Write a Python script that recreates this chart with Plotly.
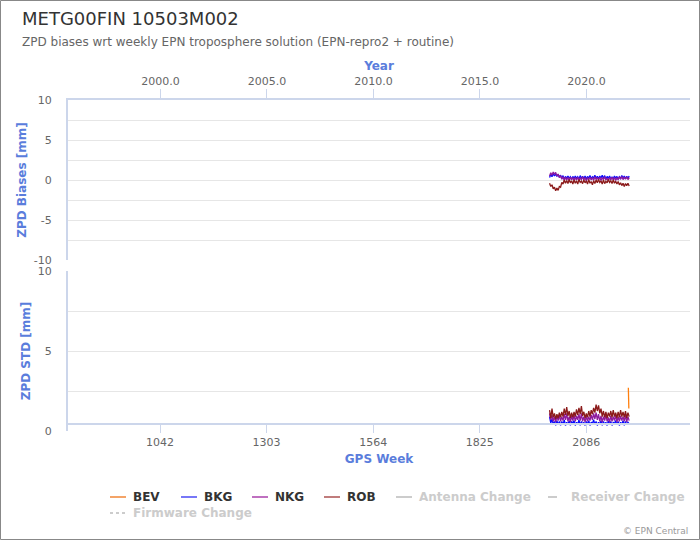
import plotly.graph_objects as go
from datetime import date

# ---------------- data ----------------
weeks = [1996, 1999, 2002, 2005, 2008, 2011, 2014, 2017, 2020, 2023,
         2026, 2029, 2032, 2035, 2038, 2041, 2044, 2047, 2050, 2053,
         2056, 2059, 2062, 2065, 2068, 2071, 2074, 2077, 2080, 2083,
         2086, 2089, 2092, 2095, 2098, 2101, 2104, 2107, 2110, 2113,
         2116, 2119, 2122, 2125, 2128, 2131, 2134, 2137, 2140, 2143,
         2146, 2149, 2152, 2155, 2158, 2161, 2164, 2167, 2170, 2173,
         2176, 2179, 2182, 2185, 2188, 2191]

bev_weeks = [2189.0, 2189.4, 2189.8, 2190.2]
bev_bias = [0.2, 0.1, 0.3, 0.2]
bev_std = [2.7, 2.1, 1.6, 1.4]

bkg_bias = [0.3, 0.7, 0.4, 0.8, 0.5, 0.75, 0.45, 0.7, 0.35, 0.6,
            0.2, 0.55, 0.1, 0.45, 0.15, 0.5, 0.2, 0.4, 0.1, 0.45,
            0.15, 0.5, 0.2, 0.4, 0.1, 0.55, 0.2, 0.45, 0.15, 0.5,
            0.1, 0.45, 0.2, 0.55, 0.15, 0.4, 0.25, 0.6, 0.2, 0.45,
            0.15, 0.5, 0.25, 0.6, 0.2, 0.55, 0.1, 0.45, 0.2, 0.5,
            0.1, 0.4, 0.15, 0.5, 0.2, 0.45, 0.1, 0.4, 0.2, 0.55,
            0.25, 0.5, 0.15, 0.45, 0.2, 0.5]
nkg_bias = [0.5, 0.9, 0.6, 1.0, 0.7, 0.95, 0.5, 0.75, 0.3, 0.55,
            0.1, 0.4, -0.05, 0.35, 0.0, 0.3, -0.1, 0.35, 0.05, 0.3,
            -0.05, 0.3, 0.0, 0.35, -0.1, 0.25, 0.05, 0.4, 0.0, 0.3,
            -0.1, 0.25, 0.05, 0.35, 0.0, 0.3, -0.05, 0.4, 0.05, 0.3,
            0.0, 0.35, -0.05, 0.3, 0.05, 0.4, 0.0, 0.25, -0.1, 0.3,
            0.05, 0.35, 0.0, 0.3, -0.05, 0.25, 0.05, 0.4, 0.1, 0.45,
            0.05, 0.35, 0.1, 0.4, 0.05, 0.3]
rob_bias = [-0.4, -0.8, -0.6, -1.1, -0.9, -1.35, -1.0, -1.3, -0.8, -0.9,
            -0.3, -0.5, 0.0, -0.4, -0.05, -0.45, 0.05, -0.35, -0.1, -0.5,
            0.0, -0.4, -0.1, -0.5, 0.05, -0.3, -0.15, -0.45, 0.0, -0.35,
            -0.1, -0.5, 0.05, -0.4, -0.2, -0.6, -0.1, -0.45, 0.0, -0.35,
            0.05, -0.3, -0.1, -0.5, 0.0, -0.45, -0.15, -0.35, 0.05, -0.3,
            -0.1, -0.45, 0.0, -0.4, -0.15, -0.5, -0.2, -0.6, -0.35, -0.7,
            -0.4, -0.8, -0.45, -0.7, -0.4, -0.75]

bkg_std = [0.9, 0.5, 0.75, 0.4, 0.6, 0.35, 0.65, 0.4, 0.6, 0.35,
           0.6, 0.4, 0.7, 0.35, 0.55, 0.4, 0.65, 0.35, 0.6, 0.45,
           0.65, 0.35, 0.55, 0.4, 0.7, 0.35, 0.6, 0.4, 0.55, 0.35,
           0.6, 0.4, 0.65, 0.35, 0.55, 0.45, 0.7, 0.4, 0.6, 0.35,
           0.55, 0.4, 0.65, 0.35, 0.6, 0.4, 0.55, 0.35, 0.65, 0.4,
           0.6, 0.35, 0.55, 0.45, 0.65, 0.4, 0.6, 0.35, 0.55, 0.4,
           0.65, 0.35, 0.6, 0.4, 0.55, 0.45]
nkg_std = [1.1, 0.7, 1.0, 0.6, 0.9, 0.55, 0.95, 0.65, 1.0, 0.6,
           0.9, 0.65, 1.05, 0.7, 1.1, 0.6, 0.9, 0.55, 0.95, 0.65,
           1.0, 0.6, 0.95, 0.7, 1.05, 0.65, 1.1, 0.6, 0.9, 0.55,
           0.95, 0.6, 0.9, 0.65, 1.0, 0.7, 1.1, 0.75, 1.15, 0.7,
           1.05, 0.6, 0.95, 0.55, 0.9, 0.65, 1.0, 0.6, 0.85, 0.55,
           0.95, 0.6, 0.9, 0.65, 1.0, 0.55, 0.9, 0.6, 0.95, 0.65,
           0.9, 0.6, 1.0, 0.55, 0.9, 0.65]
rob_std = [1.3, 0.8, 1.4, 0.85, 1.1, 0.75, 1.05, 0.8, 1.15, 0.85,
           1.2, 0.9, 1.4, 1.0, 1.5, 0.95, 1.25, 0.8, 1.15, 0.85,
           1.2, 0.9, 1.35, 1.0, 1.45, 1.05, 1.55, 0.95, 1.2, 0.8,
           1.1, 0.85, 1.25, 0.9, 1.3, 1.05, 1.45, 1.15, 1.65, 1.25,
           1.6, 1.1, 1.4, 0.9, 1.25, 0.85, 1.2, 0.8, 1.15, 0.9,
           1.25, 0.85, 1.3, 0.9, 1.15, 0.8, 1.2, 0.85, 1.3, 0.9,
           1.2, 0.85, 1.25, 0.8, 1.15, 0.9]

gps_week_ticks = [1042, 1303, 1564, 1825, 2086]
year_ticks = [2000, 2005, 2010, 2015, 2020]
year_labels = ["2000.0", "2005.0", "2010.0", "2015.0", "2020.0"]
bias_ticks = [-10, -7.5, -5, -2.5, 0, 2.5, 5, 7.5, 10]
bias_labels = ["-10", "", "-5", "", "0", "", "5", "", "10"]
std_ticks = [0, 2.5, 5, 7.5, 10]
std_labels = ["0", "", "5", "", "10"]

series_names = ["BEV", "BKG", "NKG", "ROB"]
series_colors = ["#ff7f0e", "#0a0aff", "#8e1a9e", "#8b1a1a"]
legend_colors = ["#f4a468", "#7777f7", "#bf70c0", "#c07c7c"]
hidden_names = ["Antenna Change", "Receiver Change", "Firmware Change"]

# --------------- helpers ---------------
W, H = 700, 540
L, R, T, B = 68, 10, 100, 109
PW, PH = W - L - R, H - T - B


def px(x):
    return (x - L) / PW


def py(y):
    return (H - B - y) / PH


epoch = date(1980, 1, 6)


def year_to_week(y):
    return (date(y, 1, 1) - epoch).days / 7.0


FONT = "DejaVu Sans"
BLUE = "#5a7ddc"
AXIS = "#ccd6eb"
GRID = "#e6e6e6"

fig = go.Figure()

bias_data = [(bev_weeks, bev_bias), (weeks, bkg_bias), (weeks, nkg_bias), (weeks, rob_bias)]
std_data = [(bev_weeks, bev_std), (weeks, bkg_std), (weeks, nkg_std), (weeks, rob_std)]

for name, col, (xw, yv) in zip(series_names, series_colors, bias_data):
    fig.add_trace(go.Scatter(x=xw, y=yv, mode="lines", name=name, showlegend=False,
                             line=dict(color=col, width=1.3), xaxis="x2", yaxis="y"))
for name, col, (xw, yv) in zip(series_names, series_colors, std_data):
    fig.add_trace(go.Scatter(x=xw, y=yv, mode="lines", name=name, showlegend=False,
                             line=dict(color=col, width=1.3), xaxis="x", yaxis="y2"))

xrange = [816.5, 2340]
tick_font = dict(family=FONT, size=11, color="#666666")
title_font = dict(family=FONT, size=12, color=BLUE)

fig.update_layout(
    width=W, height=H,
    margin=dict(l=L, r=R, t=T, b=B, autoexpand=False),
    paper_bgcolor="white", plot_bgcolor="white",
    font=dict(family=FONT, color="#333333"),
    xaxis=dict(domain=[0, 1], range=xrange, anchor="free", position=py(423.5),
               tickvals=gps_week_ticks, ticks="outside", ticklen=8, tickcolor=AXIS, tickwidth=1,
               showline=True, linecolor=AXIS, linewidth=2, showgrid=False, zeroline=False,
               tickfont=tick_font,
               title=dict(text="<b>GPS Week</b>", font=title_font, standoff=6)),
    xaxis2=dict(domain=[0, 1], matches="x", anchor="y", side="top",
                tickvals=[year_to_week(y) for y in year_ticks], ticktext=year_labels,
                ticks="outside", ticklen=9, tickcolor=AXIS, tickwidth=1,
                showline=True, linecolor=AXIS, linewidth=2, showgrid=False, zeroline=False,
                tickfont=tick_font,
                title=dict(text="<b>Year</b>", font=title_font, standoff=1)),
    yaxis=dict(domain=[py(260), 1], range=[-10, 10], tickvals=bias_ticks, ticktext=bias_labels,
               showgrid=True, gridcolor=GRID, gridwidth=1, zeroline=False,
               showline=True, linecolor=AXIS, linewidth=2, ticks="",
               tickfont=tick_font, ticklabelstandoff=12,
               title=dict(text="<b>ZPD Biases [mm]</b>", font=title_font, standoff=5)),
    yaxis2=dict(domain=[0, py(271)], range=[0, 10], tickvals=std_ticks, ticktext=std_labels,
                showgrid=True, gridcolor=GRID, gridwidth=1, zeroline=False,
                showline=True, linecolor=AXIS, linewidth=2, ticks="",
                tickfont=tick_font, ticklabelstandoff=12,
                title=dict(text="<b>ZPD STD [mm]</b>", font=title_font, standoff=5)),
)

annotations = [
    dict(text="METG00FIN 10503M002", x=px(20), y=py(18), xref="paper", yref="paper",
         xanchor="left", yanchor="middle", showarrow=False,
         font=dict(family=FONT, size=18, color="#333333")),
    dict(text="ZPD biases wrt weekly EPN troposphere solution (EPN-repro2 + routine)",
         x=px(20), y=py(42), xref="paper", yref="paper", xanchor="left", yanchor="middle",
         showarrow=False, font=dict(family=FONT, size=12, color="#666666")),
    dict(text="© EPN Central", x=px(690), y=py(531), xref="paper", yref="paper",
         xanchor="right", yanchor="middle", showarrow=False,
         font=dict(family=FONT, size=9, color="#999999")),
]

shapes = [
    dict(type="rect", xref="paper", yref="paper", x0=px(0.5), x1=px(699.5), y0=py(0.5), y1=py(539.5),
         line=dict(color="#888888", width=1), fillcolor="rgba(0,0,0,0)", layer="below"),
]

# legend (manual)
legend_items = [
    (series_names[0], legend_colors[0], "solid", 110, 497, "#333333"),
    (series_names[1], legend_colors[1], "solid", 181, 497, "#333333"),
    (series_names[2], legend_colors[2], "solid", 252, 497, "#333333"),
    (series_names[3], legend_colors[3], "solid", 324, 497, "#333333"),
    (hidden_names[0], "#cccccc", "solid", 396, 497, "#cccccc"),
    (hidden_names[1], "#cccccc", "dash", 548, 497, "#cccccc"),
    (hidden_names[2], "#cccccc", "dot", 110, 513, "#cccccc"),
]
for text, col, dash, x0, y0, tcol in legend_items:
    shapes.append(dict(type="line", xref="paper", yref="paper", x0=px(x0), x1=px(x0 + 16),
                       y0=py(y0), y1=py(y0), line=dict(color=col, width=2, dash=dash)))
    annotations.append(dict(text=f"<b>{text}</b>", x=px(x0 + 21), y=py(y0), xref="paper", yref="paper",
                            xanchor="left", yanchor="middle", showarrow=False,
                            font=dict(family=FONT, size=12, color=tcol)))

fig.update_layout(annotations=annotations, shapes=shapes)

fig.write_html("out.html", config={"displayModeBar": False},
               post_script="document.body.style.margin='0';document.body.style.padding='0';")
